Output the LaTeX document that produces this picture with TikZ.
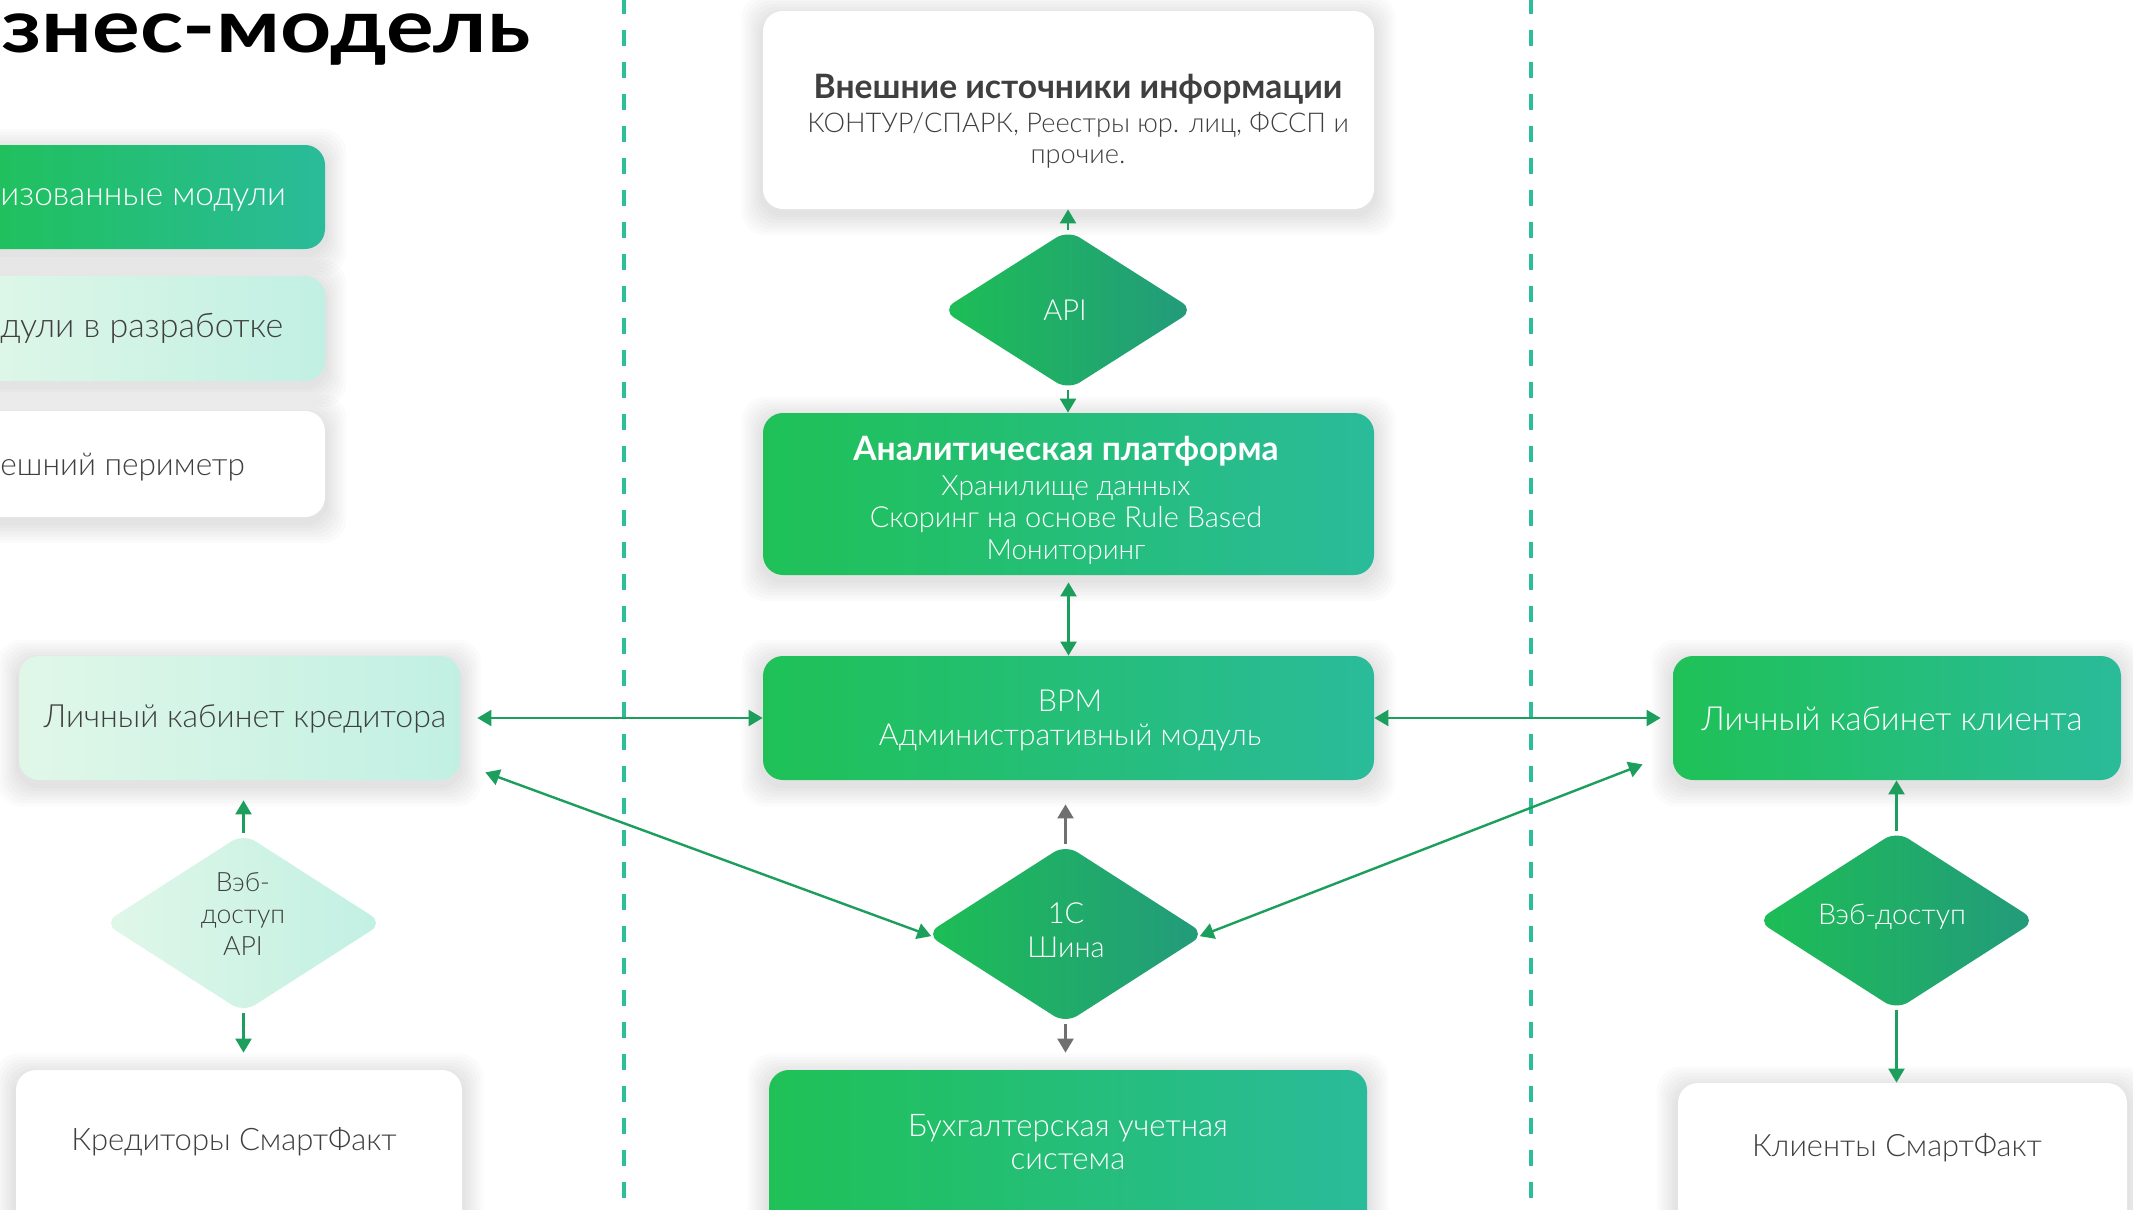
\documentclass[tikz,border=0pt]{standalone}
\usepackage{fontspec}
\setmainfont{Lato}[UprightFont={* Light},BoldFont={* Bold}]
\newfontfamily\titlefont{Lato}[UprightFont={* Bold},FakeStretch=1.2]
\usetikzlibrary{arrows.meta,shapes.geometric,calc}
\pgfdeclarelayer{bg}
\pgfsetlayers{bg,main}
\newcommand\setfs[2]{\fontsize{#1}{#2}\selectfont}
\definecolor{gA}{HTML}{1FC157}
\definecolor{gB}{HTML}{2ABB9A}
\definecolor{dA}{HTML}{1DBE55}
\definecolor{dB}{HTML}{239A7C}
\definecolor{lA}{HTML}{E0F7E8}
\definecolor{lB}{HTML}{C1F0E3}
\definecolor{arrG}{HTML}{1C9E5C}
\definecolor{arrGr}{HTML}{707070}
\definecolor{dashC}{HTML}{2BBE98}
\definecolor{txtD}{HTML}{3F3F3F}
\tikzset{
  box/.style={rectangle, rounded corners=10pt, inner sep=0pt, draw=none},
  gbox/.style={box, left color=gA, right color=gB},
  lbox/.style={box, left color=lA, right color=lB},
  wbox/.style={box, fill=white},
  dia/.style={diamond, inner sep=0pt, rounded corners=7pt, draw=none, left color=dA, right color=dB},
  ldia/.style={dia, left color=lA, right color=lB},
  wt/.style={text=white, align=center, inner sep=0pt},
  dt/.style={text=txtD, align=center, inner sep=0pt},
  tip/.tip={Triangle[length=7pt,width=8pt]},
  arr/.style={draw=arrG, line width=1.2pt, -tip},
  darr/.style={draw=arrG, line width=1.2pt, tip-tip},
  garr/.style={draw=arrGr, line width=1.2pt, -tip},
  sepline/.style={draw=dashC, line width=1.8pt, dash pattern=on 8pt off 8pt},
}
\begin{document}
\begin{tikzpicture}[x=0.5pt,y=-0.5pt]
\useasboundingbox (0,0) rectangle (2133,1210);

% separators
\coordinate (s1a) at (624,-2); \coordinate (s1b) at (624,1215);
\coordinate (s2a) at (1531,-2); \coordinate (s2b) at (1531,1215);
\draw[sepline] (s1a) -- (s1b);
\draw[sepline] (s2a) -- (s2b);

% title
\node[anchor=base west, inner sep=0pt, text=black, font=\titlefont\setfs{37.2}{40}] (title) at (1,53) {знес-модель};

% legend
\node[gbox, minimum width=182.5pt, minimum height=52pt] (leg1) at (142.5,197) {};
\node[lbox, minimum width=182.5pt, minimum height=52.5pt] (leg2) at (142.5,328.5) {};
\node[wbox, minimum width=182.5pt, minimum height=53pt] (leg3) at (142.5,464) {};
\node[wt, anchor=base west, font=\setfs{16.7}{20}] (leg1t) at (0,205) {изованные модули};
\node[dt, anchor=base west, font=\setfs{17}{20}] (leg2t) at (0,337) {дули в разработке};
\node[dt, anchor=base west, font=\setfs{15.8}{20}] (leg3t) at (0,475) {ешний периметр};

% centre column
\node[wbox, minimum width=305.5pt, minimum height=99pt] (ext) at (1068.5,110) {};
\node[dt, font=\setfs{13.6}{15.5}] (extT) at (1078,121)
  {{\bfseries\setfs{16.8}{15.5}Внешние источники информации}\\[1.5pt]КОНТУР/СПАРК, Реестры юр. лиц, ФССП и\\прочие.};

\node[dia, minimum width=126pt, minimum height=80pt] (apiD) at (1068,310) {};
\node[wt, font=\setfs{14.5}{17}] (apiT) at (1065,310) {API};

\node[gbox, minimum width=305.5pt, minimum height=81pt] (anal) at (1068.5,494) {};
\node[wt, font=\setfs{14}{16}] (analT) at (1066,500)
  {{\bfseries\setfs{16.8}{16}Аналитическая платформа}\\[1.5pt]Хранилище данных\\{\setfs{14.5}{16}Скоринг на основе Rule Based}\\Мониторинг};

\node[gbox, minimum width=305.5pt, minimum height=62pt] (bpm) at (1068.5,718) {};
\node[wt, font=\setfs{15.2}{17}] (bpmT) at (1070,720) {BPM\\Административный модуль};

\node[dia, minimum width=139.5pt, minimum height=89.5pt] (oneC) at (1065.5,934) {};
\node[wt, font=\setfs{14.5}{17}] (oneCT) at (1066,930) {1С\\Шина};

\node[gbox, minimum width=299pt, minimum height=90pt] (acc) at (1068,1160) {};
\node[wt, font=\setfs{15.6}{16.5}] (accT) at (1068,1142) {Бухгалтерская учетная\\система};

% left column
\node[lbox, minimum width=220.5pt, minimum height=62pt] (credbox) at (239.5,718) {};
\node[dt, font=\setfs{16}{19}] (credT) at (245,719) {Личный кабинет кредитора};

\node[ldia, minimum width=139.5pt, minimum height=89.5pt] (credD) at (243.5,923) {};
\node[dt, font=\setfs{13.3}{16}] (credDT) at (243,914) {Вэб-\\доступ\\API};

\node[wbox, minimum width=223pt, minimum height=90pt] (creditors) at (239,1160) {};
\node[dt, font=\setfs{15.5}{18}] (creditorsT) at (234,1142) {Кредиторы СмартФакт};

% right column
\node[gbox, minimum width=224pt, minimum height=62pt] (clientbox) at (1897,718) {};
\node[wt, font=\setfs{16.6}{19}] (clientT) at (1892,719) {Личный кабинет клиента};

\node[dia, minimum width=139.5pt, minimum height=89.5pt] (cliD) at (1896.5,920.5) {};
\node[wt, font=\setfs{14.3}{16}] (cliDT) at (1892,917) {Вэб-доступ};

\node[wbox, minimum width=224.5pt, minimum height=88.5pt] (clients) at (1902.5,1171.5) {};
\node[dt, font=\setfs{15.4}{18}] (clientsT) at (1897,1148) {Клиенты СмартФакт};

% connectors
\draw[arr] (apiD.north) -- (apiD.north |- ext.south);
\draw[arr] (apiD.south) -- (apiD.south |- anal.north);
\draw[darr, shorten <=3.5pt] (anal.south) -- (bpm.north);
\draw[darr, shorten <=8.5pt] (credbox.east) -- (bpm.west);
\draw[darr, shorten >=6pt] (bpm.east) -- (clientbox.west);
\draw[darr, shorten <=-3pt] (oneC.west) -- ($(credbox.south east)+(25,-8)$);
\draw[darr, shorten <=-3pt] (oneC.east) -- ($(clientbox.south west)+(-30,-16)$);
\draw[garr, shorten >=12pt] (oneC.north) -- (oneC.north |- bpm.south);
\draw[garr, shorten >=8.5pt] (oneC.south) -- (oneC.south |- acc.north);
\draw[arr, shorten >=10pt] (credD.north) -- (credD.north |- credbox.south);
\draw[arr, shorten >=8.5pt] (credD.south) -- (credD.south |- creditors.north);
\draw[arr] (cliD.north) -- (cliD.north |- clientbox.south);
\draw[arr] (cliD.south) -- (cliD.south |- clients.north);

% background and soft shadows
\begin{pgfonlayer}{bg}
  \fill[white] (0,0) rectangle (2133,1210);
  \foreach \n in {leg1,leg2,leg3,ext,anal,bpm,acc,credbox,creditors,clientbox,clients}{
    \foreach \d in {3,6,...,21}{
      \fill[black, opacity=0.014, rounded corners=12pt]
        ($(\n.north west)+(-\d,-\d+5)$) rectangle ($(\n.south east)+(\d,\d+5)$);
    }
  }
\end{pgfonlayer}
\end{tikzpicture}
\end{document}
